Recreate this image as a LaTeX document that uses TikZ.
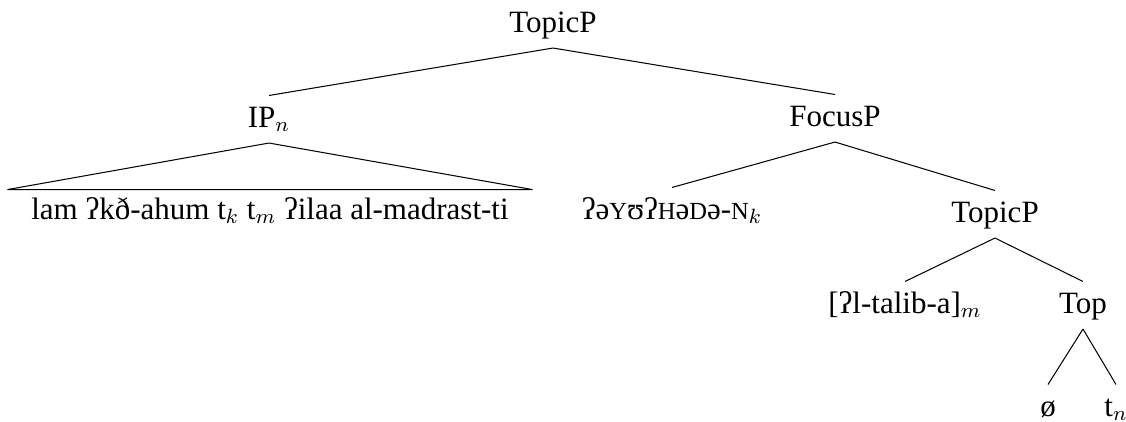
\documentclass[tikz,border=0pt]{standalone}
\usepackage{fontspec}
\setmainfont{Liberation Serif}
\newcommand{\fsc}[1]{{\fontsize{9.5pt}{10pt}\selectfont #1}}

\begin{document}
\begin{tikzpicture}[
    x=0.387pt, y=-0.387pt,
    font=\fontsize{12pt}{14pt}\selectfont,
    treenode/.style={inner xsep=2pt, inner ysep=0pt, text height=12pt, text depth=6pt, anchor=base},
    roofnode/.style={inner xsep=9pt, inner ysep=0pt, text height=11.2pt, text depth=3pt, anchor=base}
]
\useasboundingbox (0,0) rectangle (1126,421);
\node[treenode](topic) at (553,32) {TopicP};
\node[treenode](ip) at (269,127) {IP$_n$};
\node[treenode](focus) at (835,126) {FocusP};
\node[roofnode](roof) at (270,219) {lam ʔkð-ahum t$_k$ t$_m$ ʔilaa al-madrast-ti};
\node[treenode](word) at (672,219) {ʔə\fsc{Y}ʊʔ\fsc{H}ə\fsc{D}ə-\fsc{N}$_k$};
\node[treenode](topic2) at (995,222) {TopicP};
\node[treenode](talib) at (905,313) {[ʔl-talib-a]$_m$};
\node[treenode](top) at (1083,313) {Top};
\node[treenode](empty) at (1048,416) {ø};
\node[treenode](trace) at (1116,416) {t$_n$};
\draw (topic.south) -- (ip.north);
\draw (topic.south) -- (focus.north);
\draw (ip.south) -- (roof.north west) -- (roof.north east) -- cycle;
\draw (focus.south) -- (word.north);
\draw (focus.south) -- (topic2.north);
\draw (topic2.south) -- (talib.north);
\draw (topic2.south) -- (top.north);
\draw (top.south) -- (empty.north);
\draw (top.south) -- (trace.north);
\end{tikzpicture}
\end{document}
